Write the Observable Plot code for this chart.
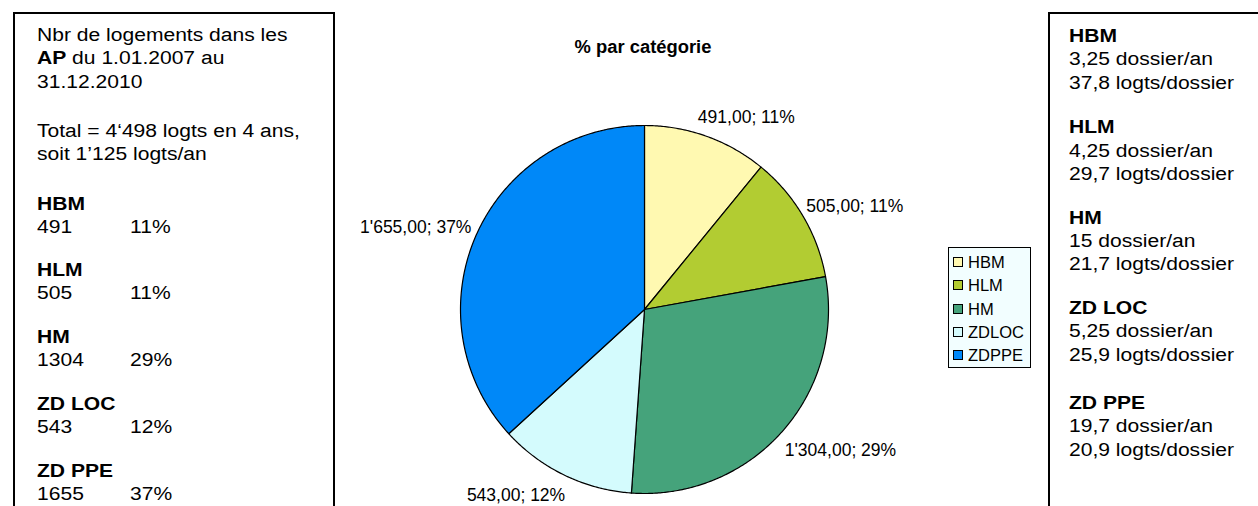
<!DOCTYPE html>
<html>
<head>
<meta charset="utf-8">
<script src="https://cdn.jsdelivr.net/npm/d3@7"></script>
<script src="https://cdn.jsdelivr.net/npm/@observablehq/plot@0.6"></script>
<style>
  body { margin: 0; background: #fff; font-family: Arial, "Liberation Sans", sans-serif; color: #000; }
  #wrap { position: relative; width: 1258px; height: 506px; overflow: hidden; }
  #chart { position: absolute; left: 0; top: 0; }
  .box { position: absolute; top: 12px; height: 520px; border: 2px solid #000; box-sizing: border-box; }
  #left { left: 13px; width: 322px; }
  #right { left: 1048px; width: 240px; }
  .inner { position: absolute; white-space: nowrap; font-size: 18px; transform: scaleX(1.17); transform-origin: 0 0; }
  #left .inner { left: 22px; top: 9.5px; line-height: 23.5px; }
  #right .inner { left: 19px; top: 11px; line-height: 23.3px; }
  .b { font-weight: bold; }
  .val { display: inline-block; width: 79.5px; }
  #title { position: absolute; left: 543px; width: 200px; top: 37px; text-align: center; font-weight: bold; font-size: 17.5px; transform: scaleX(1.05); transform-origin: 50% 0; white-space: nowrap; }
  #legend { position: absolute; left: 948px; top: 247px; width: 83px; height: 121px; box-sizing: border-box; border: 1px solid #000; background: #F2FEFF; padding: 3px 0 0 4px; font-size: 16.5px; line-height: 23.3px; white-space: nowrap; }
  .sw { display: inline-block; width: 8px; height: 8px; border: 1px solid #000; margin-right: 5px; vertical-align: 1px; }
</style>
</head>
<body>
<div id="wrap">
  <div id="chart"></div>
  <div id="title"></div>
  <div id="legend"></div>
  <div class="box" id="left"><div class="inner"></div></div>
  <div class="box" id="right"><div class="inner"></div></div>
</div>
<script>
// ---- data ----
const categories = ["HBM", "HLM", "HM", "ZDLOC", "ZDPPE"];
const boxNames = ["HBM", "HLM", "HM", "ZD LOC", "ZD PPE"];
const logements = [491, 505, 1304, 543, 1655];
const percents = [11, 11, 29, 12, 37];
const dossiersParAn = ["3,25", "4,25", "15", "5,25", "19,7"];
const logtsParDossier = ["37,8", "29,7", "21,7", "25,9", "20,9"];
const colors = ["#FFF9B1", "#B2CC32", "#45A37B", "#D4FBFD", "#0088F8"];
const chartTitle = "% par catégorie";
const introLines = ["Nbr de logements dans les", "<b>AP</b> du 1.01.2007 au", "31.12.2010"];
const totalLines = ["Total = 4‘498 logts en 4 ans,", "soit 1’125 logts/an"];

// ---- layout ----
const cx = 644, cy = 309, R = 184;
const stretch = 1.17;
const labelFont = 17.5, charW = 9.6, gapPx = 8;
const leftGaps = [0, 25.5, 26, 19, 20, 20, 20];   // margin before each group (px)
const rightGaps = [0, 21.5, 20.5, 20.5, 25];

const fr = d3.formatLocale({decimal: ",", thousands: "'", grouping: [3]}).format(",.2f");

const arcs = d3.pie().sort(null).value(d => d)(logements);
const slices = [];
arcs.forEach((a, i) => {
  const n = Math.max(2, Math.ceil((a.endAngle - a.startAngle) / (Math.PI / 360)));
  slices.push({cat: categories[i], x: 0, y: 0});
  for (let k = 0; k <= n; k++) {
    const t = a.startAngle + (a.endAngle - a.startAngle) * k / n;
    slices.push({cat: categories[i], x: Math.sin(t), y: Math.cos(t)});
  }
  slices.push({cat: categories[i], x: 0, y: 0});
});

const labels = arcs.map((a, i) => {
  const m = (a.startAngle + a.endAngle) / 2;
  const s = Math.sin(m), c = Math.cos(m);
  const text = `${fr(logements[i])}; ${percents[i]}%`;
  const halfW = text.length * charW / 2;
  const ox = Math.sign(s) * Math.min(0.85, Math.abs(s) * 2.1) * halfW;
  const oy = 12 * c - (c < 0 ? 6 * Math.abs(s) : 0);
  return {
    text,
    x: ((R + gapPx) * s + ox) / R,
    y: ((R + gapPx) * c + oy) / R
  };
});

const plot = Plot.plot({
  width: 1258, height: 506, margin: 0,
  x: {domain: [-1, 1], range: [cx - R, cx + R], axis: null},
  y: {domain: [-1, 1], range: [cy + R, cy - R], axis: null},
  color: {domain: categories, range: colors},
  style: {fontFamily: "Arial, 'Liberation Sans', sans-serif", background: "transparent"},
  marks: [
    Plot.line(slices, {x: "x", y: "y", z: "cat", fill: "cat", stroke: "#000", strokeWidth: 1.2, curve: "linear"}),
    Plot.text(labels, {x: "x", y: "y", text: "text", fontSize: labelFont, fill: "#000", ariaLabel: "pie-labels"})
  ]
});
// horizontal stretch of the label glyphs, as in the reference
d3.select(plot).selectAll("g[aria-label='pie-labels'] text").each(function () {
  const el = d3.select(this);
  let t = el.attr("transform");
  if (!t) {
    t = `translate(${+el.attr("x") || 0},${+el.attr("y") || 0})`;
    el.attr("x", null).attr("y", null);
  }
  el.attr("transform", `${t} scale(${stretch},1)`);
});
document.getElementById("chart").appendChild(plot);

document.getElementById("title").textContent = chartTitle;

document.getElementById("legend").innerHTML = categories.map((c, i) =>
  `<div><span class="sw" style="background:${colors[i]}"></span>${c}</div>`).join("");

const leftGroups = [introLines.join("<br>"), totalLines.join("<br>")]
  .concat(boxNames.map((n, i) => `<span class="b">${n}</span><br><span class="val">${logements[i]}</span>${percents[i]}%`));
document.querySelector("#left .inner").innerHTML =
  leftGroups.map((g, i) => `<div style="margin-top:${leftGaps[i]}px">${g}</div>`).join("");

document.querySelector("#right .inner").innerHTML =
  boxNames.map((n, i) => `<div style="margin-top:${rightGaps[i]}px"><span class="b">${n}</span><br>${dossiersParAn[i]} dossier/an<br>${logtsParDossier[i]} logts/dossier</div>`).join("");
</script>
</body>
</html>
